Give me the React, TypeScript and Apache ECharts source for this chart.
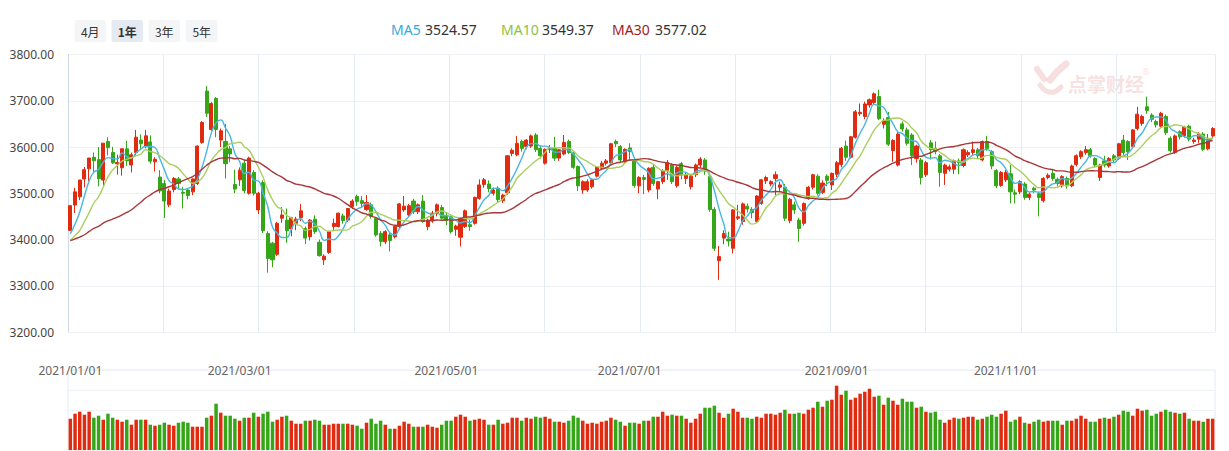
import React, { useEffect, useRef } from "react";
import * as echarts from "echarts";

// Trading days (day of month) — first category is 2020/12/31
const dec20 = [31];
const jan = [4, 5, 6, 7, 8, 11, 12, 13, 14, 15, 18, 19, 20, 21, 22, 25, 26, 27, 28, 29];
const feb = [1, 2, 3, 4, 5, 8, 9, 10, 18, 19, 22, 23, 24, 25, 26];
const mar = [1, 2, 3, 4, 5, 8, 9, 10, 11, 12, 15, 16, 17, 18, 19, 22, 23, 24, 25, 26, 29, 30, 31];
const apr = [1, 2, 6, 7, 8, 9, 12, 13, 14, 15, 16, 19, 20, 21, 22, 23, 26, 27, 28, 29, 30];
const may = [6, 7, 10, 11, 12, 13, 14, 17, 18, 19, 20, 21, 24, 25, 26, 27, 28, 31];
const jun = [1, 2, 3, 4, 7, 8, 9, 10, 11, 15, 16, 17, 18, 21, 22, 23, 24, 25, 28, 29, 30];
const jul = [1, 2, 5, 6, 7, 8, 9, 12, 13, 14, 15, 16, 19, 20, 21, 22, 23, 26, 27, 28, 29, 30];
const aug = [2, 3, 4, 5, 6, 9, 10, 11, 12, 13, 16, 17, 18, 19, 20, 23, 24, 25, 26, 27, 30, 31];
const sep = [1, 2, 3, 6, 7, 8, 9, 10, 13, 14, 15, 16, 17, 22, 23, 24, 27, 28, 29, 30];
const oct = [8, 11, 12, 13, 14, 15, 18, 19, 20, 21, 22, 25, 26, 27, 28, 29];
const nov = [1, 2, 3, 4, 5, 8, 9, 10, 11, 12, 15, 16, 17, 18, 19, 22, 23, 24, 25, 26, 29, 30];
const dec = [1, 2, 3, 6, 7, 8, 9, 10, 13, 14, 15, 16, 17, 20, 21, 22, 23, 24, 27, 28, 29, 30, 31];

const tickIndex = [0, 36, 80, 119, 163, 199];
const tickLabels = ["2021/01/01", "2021/03/01", "2021/05/01", "2021/07/01", "2021/09/01", "2021/11/01"];

// Closes before the window (needed for the moving averages at the start)
const priorCloses = [3377.7, 3414.5, 3402.8, 3362.3, 3369.7, 3408.3, 3391.8, 3451.9, 3449.4, 3442.1, 3444.6, 3416.6, 3410.2, 3372.0, 3373.3, 3347.2, 3369.1, 3367.2, 3367.0, 3404.9, 3394.9, 3420.6, 3356.8, 3382.3, 3363.1, 3396.6, 3397.3, 3379.0, 3414.5];

const opens = [
3419.7,3474.7,3492.2,3530.9,3552.9,3577.7,3572.8,3528.5,3612,3588,
3563.7,3555.1,3596,3561,3588,3615,3602,3611,3568,3535,
3521,3475,3508,3531,3502,3507,3503,3521,3610,3721,
3638,3705,3615,3612,3596,3519,3529,3565,3500,3545,
3464,3523,3413,3392,3368,3446,3442,3423,3435,3447,
3424,3406,3444,3394,3356,3372,3428,3428,3451,3442,
3471,3493,3484,3465,3475,3446,3413,3395,3410,3406,
3428,3464,3453,3483,3460,3483,3428,3440,3456,3469,
3450,3449,3422,3405,3428,3432,3435,3489,3519,3520,
3500,3511,3484,3501,3586,3583,3612,3601,3602,3626,
3597,3565,3595,3597,3576,3585,3612,3586,3558,3507,
3507,3514,3537,3554,3565,3566,3612,3601,3570,3598,
3572,3516,3534,3507,3556,3509,3525,3549,3561,3516,
3564,3532,3514,3540,3561,3572,3536,3465,3354,3403,
3401,3381,3446,3439,3472,3465,3439,3478,3527,3520,
3532,3513,3513,3441,3475,3442,3435,3491,3513,3537,
3502,3537,3518,3541,3562,3602,3578,3621,3672,3666,
3691,3696,3709,3649,3664,3592,3561,3650,3637,3626,
3575,3572,3540,3609,3597,3581,3543,3552,3552,3570,
3560,3583,3588,3594,3572,3612,3590,3549,3517,3529,
3542,3501,3503,3520,3491,3511,3499,3484,3534,3543,
3530,3516,3532,3516,3562,3579,3588,3594,3575,3534,
3570,3559,3581,3576,3615,3612,3601,3640,3651,3687,
3669,3655,3645,3666,3619,3588,3633,3624,3645,3612,
3617,3628,3596,3624
];
const closes = [
3473.1,3503.0,3528.7,3550.9,3576.2,3570.1,3531.5,3608.3,3598.7,3565.9,
3566.4,3596.2,3570,3583.1,3621.3,3606.8,3624.2,3569.4,3573.3,3505.2,
3483.1,3505,3532,3521,3500,3495,3531,3602,3653,3673,
3694,3638,3635,3564,3585,3509,3550,3506,3576,3500,
3500,3419,3359,3356,3435,3453,3419,3447,3444,3462,
3403,3442,3417,3365,3364,3417,3435,3457,3441,3467,
3483,3482,3478,3480,3450,3410,3396,3417,3398,3428,
3477,3472,3473,3460,3475,3439,3442,3457,3475,3446,
3441,3417,3429,3446,3462,3428,3491,3518,3529,3510,
3507,3486,3496,3581,3593,3608,3597,3615,3624,3594,
3581,3595,3599,3576,3594,3610,3588,3556,3516,3525,
3525,3529,3556,3565,3570,3607,3607,3572,3595,3590,
3517,3534,3530,3554,3521,3525,3548,3566,3525,3556,
3539,3539,3537,3561,3574,3548,3465,3381,3363,3413,
3397,3464,3449,3477,3466,3458,3494,3529,3534,3525,
3540,3518,3446,3487,3464,3424,3478,3513,3540,3500,
3522,3528,3543,3566,3597,3578,3622,3676,3675,3693,
3702,3715,3661,3657,3606,3614,3628,3639,3608,3581,
3602,3534,3566,3594,3590,3545,3561,3557,3570,3566,
3594,3588,3594,3581,3612,3597,3559,3516,3545,3545,
3503,3498,3525,3491,3498,3507,3491,3532,3539,3532,
3521,3536,3516,3559,3581,3590,3594,3581,3561,3561,
3561,3575,3572,3607,3588,3590,3637,3671,3666,3679,
3660,3648,3673,3631,3592,3624,3622,3643,3617,3615,
3628,3595,3617,3640
];
const lows = [
3419.7,3457.2,3485.0,3513.0,3526.6,3544.9,3515.0,3515.8,3581.9,3563.1,
3540.4,3538.2,3559.1,3545,3580,3596,3597,3564,3547,3500,
3446.7,3470,3502,3511,3467,3487,3496,3518,3607,3665,
3635,3621,3600,3532,3567,3500,3516,3500,3497,3495,
3455,3414,3328.3,3340,3364,3436,3393,3407,3420,3440,
3390,3398,3412,3363,3345,3369,3420,3426,3434,3438,
3466,3473,3470,3462,3445,3406,3385,3390,3374,3402,
3424,3460,3448,3455,3455,3436,3420,3436,3450,3443,
3431,3413,3408,3385,3425,3419,3432,3486,3512,3502,
3495,3480,3479,3497,3580,3580,3590,3595,3598,3589,
3575,3562,3587,3570,3570,3582,3585,3553,3505,3499,
3503,3510,3534,3550,3560,3563,3600,3565,3566,3570,
3512,3500,3498,3502,3516,3487,3520,3529,3520,3512,
3530,3520,3508,3535,3555,3540,3460,3375,3312.7,3390,
3385,3370,3442,3432,3458,3446,3436,3475,3520,3515,
3496,3505,3440,3435,3455,3395,3430,3486,3508,3495,
3498,3515,3507,3535,3556,3570,3575,3618,3667,3660,
3685,3692,3658,3640,3602,3568,3558,3633,3603,3561,
3566,3519,3535,3573,3584,3514,3518,3547,3542,3541,
3556,3578,3582,3576,3569,3592,3552,3511,3514,3524,
3478,3478,3498,3486,3485,3500,3450,3480,3530,3527,
3515,3512,3510,3513,3558,3574,3583,3577,3556,3527,
3556,3555,3567,3572,3583,3572,3598,3636,3646,3672,
3654,3642,3641,3626,3588,3585,3616,3620,3612,3607,
3609,3591,3593,3620
];
const highs = [
3474.9,3511.7,3528.7,3556.8,3576.2,3588.3,3600,3608.3,3621,3600.3,
3583.6,3596.8,3613.4,3588,3637,3627,3637,3625,3578,3550,
3529,3510,3535,3535,3514,3511,3532,3603.5,3656,3731.7,
3697,3708,3640,3650,3602,3551,3556,3571,3579,3550,
3503,3528,3418,3395,3438,3470,3467,3449,3449,3477,
3428,3444,3452,3400,3368,3419,3445,3458,3456,3468,
3487,3497,3494,3496,3480,3448,3418,3420,3416,3430,
3479,3494,3477,3488,3478,3496,3445,3462,3478,3475,
3458,3452,3432,3448,3465,3442,3493,3530,3533,3528,
3512,3515,3499,3582,3597,3624,3616,3617,3627,3630,
3603,3597,3604,3622,3596,3626,3616,3590,3560,3528,
3530,3532,3558,3570,3574,3609,3616,3604,3597,3608,
3578,3537,3540,3556,3561,3527,3552,3572,3565,3560,
3568,3545,3540,3564,3578,3576,3545,3470,3386,3420,
3417,3466,3475,3480,3478,3470,3496,3531,3538,3528,
3547,3525,3520,3490,3482,3447,3480,3516,3542,3541,
3528,3541,3545,3570,3600,3614,3624,3680,3694,3698,
3705,3718,3723.8,3662,3676,3617,3632,3655,3642,3630,
3605,3576,3570,3615,3612,3585,3564,3562,3573,3575,
3597,3593,3612,3598,3614,3624,3593,3552,3548,3550,
3561,3508,3528,3524,3502,3514,3503,3535,3543,3552,
3534,3539,3536,3562,3584,3593,3602,3598,3578,3564,
3581,3578,3585,3609,3626,3615,3639,3687,3670,3708.9,
3673,3659,3676,3670,3623,3627,3636,3646,3648,3620,
3632,3632,3628,3643
];
const volumes = [
313,363,383,353,383,323,343,303,363,323,
303,283,303,253,303,303,303,253,243,253,
273,253,243,273,283,273,233,233,233,323,
343,463,373,343,343,313,293,323,323,373,
333,363,383,283,303,333,343,293,263,263,
293,293,303,293,253,253,263,263,263,263,
253,243,213,273,313,263,293,253,213,213,
243,283,263,233,233,233,253,233,223,253,
293,293,333,353,333,293,303,313,303,253,
253,303,263,273,323,323,293,323,313,333,
323,333,313,283,283,273,293,343,323,293,
263,273,263,283,293,323,303,283,243,273,
273,263,293,293,333,333,383,343,353,343,
343,313,273,313,363,423,423,443,373,323,
363,413,383,323,323,313,333,323,363,363,
353,373,403,363,363,373,363,403,423,483,
433,493,503,643,553,593,503,523,563,583,
613,533,543,453,523,493,453,513,483,483,
423,433,383,373,383,303,273,303,323,313,
323,333,333,303,313,333,353,333,363,393,
283,303,333,273,263,283,303,283,293,293,
293,253,293,293,313,343,313,283,283,313,
323,313,333,353,393,383,343,413,393,403,
343,363,383,403,383,373,363,373,313,293,
293,283,313,313
];

const legendItems = [
  { name: "MA5", value: "3524.57", color: "#38a9d8", x: 391, vx: 425 },
  { name: "MA10", value: "3549.37", color: "#8cc33e", x: 501, vx: 542 },
  { name: "MA30", value: "3577.02", color: "#9f1c24", x: 612, vx: 655 },
];
const periodButtons = ["4月", "1年", "3年", "5年"];

const RED = "#e12b10";
const GREEN = "#34a617";
const VGRID = "#e5ebf2";

export default function App() {
  const ref = useRef<HTMLDivElement>(null);
  useEffect(() => {
    document.body.style.margin = "0";
    const chart = echarts.init(ref.current!, null, { renderer: "svg" });
    const dates: string[] = [];
    dec20.forEach((d) => dates.push("2020/12/" + String(d).padStart(2, "0")));
    [jan, feb, mar, apr, may, jun, jul, aug, sep, oct, nov, dec].forEach((m, mi) => {
      m.forEach((d) => dates.push("2021/" + String(mi + 1).padStart(2, "0") + "/" + String(d).padStart(2, "0")));
    });
    const allCloses = priorCloses.concat(closes);
    const ma = (n: number) =>
      closes.map((_, i) => {
        const end = i + priorCloses.length;
        let s = 0;
        for (let k = end - n + 1; k <= end; k++) s += allCloses[k];
        return +(s / n).toFixed(2);
      });
    const candle = opens.map((o, i) => [o, closes[i], lows[i], highs[i]]);
    const font = '"Noto Sans", "Noto Sans CJK SC", sans-serif';

    const graphics: any[] = [];
    const bx = [74.5, 111.5, 148.5, 186];
    periodButtons.forEach((t, i) => {
      graphics.push({
        type: "rect",
        shape: { x: bx[i], y: 20, width: 31.5, height: 22, r: 2 },
        style: { fill: i === 1 ? "#e5eaf2" : "#f4f5f7" },
      });
      graphics.push({
        type: "text",
        x: bx[i] + 15.75,
        y: 31,
        style: {
          text: t,
          fill: "#333",
          fontSize: 12,
          fontWeight: i === 1 ? "bold" : "normal",
          fontFamily: '"Noto Sans CJK SC", sans-serif',
          align: "center",
          verticalAlign: "middle",
        },
      });
    });
    legendItems.forEach((l) => {
      graphics.push({
        type: "text", x: l.x, y: 29,
        style: { text: l.name, fill: l.color, fontSize: 14, fontFamily: font, verticalAlign: "middle" },
      });
      graphics.push({
        type: "text", x: l.vx, y: 29,
        style: { text: l.value, fill: "#333", fontSize: 14, fontFamily: font, verticalAlign: "middle" },
      });
    });
    // watermark
    const wm = "rgba(228,150,150,0.3)";
    const stroke = (pts: number[][], w: number) => ({
      type: "polyline", shape: { points: pts, smooth: 0.4 },
      style: { stroke: wm, lineWidth: w, lineCap: "round", lineJoin: "round", fill: null },
    });
    graphics.push(stroke([[1037, 69], [1044, 79]], 6));
    graphics.push(stroke([[1066, 64], [1057, 72], [1050, 80]], 7));
    graphics.push(stroke([[1040, 85], [1046, 91], [1054, 92], [1061, 87]], 5));
    graphics.push({
      type: "text", x: 1068, y: 83,
      style: { text: "点掌财经", fill: wm, fontSize: 19, fontWeight: "bold", fontFamily: '"Noto Sans CJK SC", sans-serif', verticalAlign: "middle" },
    });
    graphics.push({
      type: "text", x: 1142, y: 71,
      style: { text: "®", fill: wm, fontSize: 9, fontFamily: font, verticalAlign: "middle" },
    });

    // vertical split colors: hide the tick at 12 (close to the right border), keep the border at max
    const vColors: string[] = [];
    for (let k = 0; k < 14; k++) vColors.push(k === 12 ? "rgba(0,0,0,0)" : VGRID);

    chart.setOption({
      animation: false,
      backgroundColor: "#fff",
      textStyle: { fontFamily: font },
      grid: [
        { left: 68, right: 14, top: 54.5, height: 277.5 },
        { left: 68, right: 14, top: 370, height: 80, show: true, borderColor: "#e4eaf2", borderWidth: 1 },
      ],
      xAxis: [
        {
          type: "category", gridIndex: 0, data: dates, boundaryGap: true,
          axisLine: { show: false }, axisTick: { show: false }, splitLine: { show: false },
          axisLabel: {
            interval: (idx: number) => tickIndex.indexOf(idx) >= 0,
            formatter: (_v: string, idx: number) => tickLabels[tickIndex.indexOf(idx)] || "",
            margin: 32, color: "#666", fontSize: 12, fontFamily: font,
          },
        },
        {
          type: "value", gridIndex: 0, min: 0, max: 12.035, interval: 1, position: "top",
          axisLine: { show: false }, axisTick: { show: false }, axisLabel: { show: false },
          splitLine: { show: true, lineStyle: { color: vColors, width: 1 } },
        },
        {
          type: "category", gridIndex: 1, data: dates, boundaryGap: true,
          axisLine: { show: false }, axisTick: { show: false }, axisLabel: { show: false }, splitLine: { show: false },
        },
      ],
      yAxis: [
        {
          type: "value", gridIndex: 0, min: 3200, max: 3800, interval: 100, scale: true,
          axisLine: { show: true, lineStyle: { color: "#cdd9e8", width: 1 } },
          axisTick: { show: false },
          axisLabel: { formatter: (v: number) => v.toFixed(2), color: "#444", fontSize: 12, margin: 14, fontFamily: font },
          splitLine: { show: true, lineStyle: { color: "#edf0f4", width: 1 } },
        },
        {
          type: "value", gridIndex: 1, min: 0, max: 800, interval: 200,
          axisLine: { show: false }, axisTick: { show: false }, axisLabel: { show: false },
          splitLine: { show: true, lineStyle: { color: "#eef1f5", width: 1 } },
        },
      ],
      graphic: graphics,
      series: [
        {
          type: "candlestick", xAxisIndex: 0, yAxisIndex: 0, data: candle, barWidth: "76%",
          itemStyle: { color: RED, color0: GREEN, borderColor: RED, borderColor0: GREEN, borderWidth: 1 },
        },
        {
          type: "line", xAxisIndex: 0, yAxisIndex: 0, data: ma(5), showSymbol: false, symbol: "none", smooth: true,
          lineStyle: { color: "#4ab6df", width: 1.4 }, z: 3,
        },
        {
          type: "line", xAxisIndex: 0, yAxisIndex: 0, data: ma(10), showSymbol: false, symbol: "none", smooth: true,
          lineStyle: { color: "#a9cf5e", width: 1.4 }, z: 3,
        },
        {
          type: "line", xAxisIndex: 0, yAxisIndex: 0, data: ma(30), showSymbol: false, symbol: "none", smooth: true,
          lineStyle: { color: "#a8373a", width: 1.4 }, z: 3,
        },
        {
          type: "bar", xAxisIndex: 2, yAxisIndex: 1, data: volumes, barWidth: "74%",
          itemStyle: { color: (p: any) => (closes[p.dataIndex] >= opens[p.dataIndex] ? RED : GREEN) },
        },
      ],
    });
    return () => chart.dispose();
  }, []);
  return <div ref={ref} style={{ width: 1229, height: 451 }} />;
}
